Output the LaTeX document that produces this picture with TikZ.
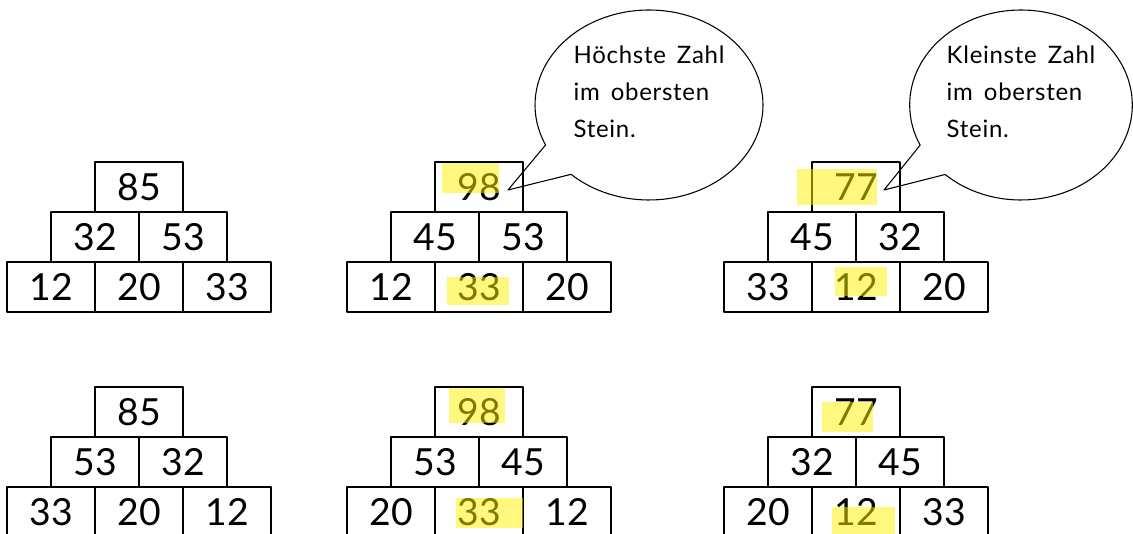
\documentclass[tikz,border=0pt]{standalone}
\usepackage{fontspec}
\setmainfont{Lato}
\newfontfamily\blasenschrift{Lato}[LetterSpace=3, WordSpace=1.6]
\usetikzlibrary{shapes.callouts}
\tikzset{
  stein/.style={draw, line width=0.9pt, minimum width=66pt, minimum height=37.5pt, inner sep=0pt, font=\fontsize{28}{30}\selectfont},
  leuchte/.style={fill=yellow, fill opacity=0.5, draw=none},
  blase/.style={ellipse callout, draw, line width=0.8pt, callout pointer arc=22, align=left, text depth=20pt, font=\blasenschrift\fontsize{18}{27.5}\selectfont}
}
\begin{document}
\begin{tikzpicture}[x=0.75pt, y=-0.75pt, line join=round]
\useasboundingbox (0,0) rectangle (1133,534);
% pyramids: bottom row, middle row, top stone
\foreach \p/\L/\T/\a/\b/\c/\d/\e/\f in {a/7/162/12/20/33/32/53/85, b/347/162/12/33/20/45/53/98, c/724/162/33/12/20/45/32/77, d/7/387/33/20/12/53/32/85, e/347/387/20/33/12/53/45/98, f/724/387/20/12/33/32/45/77}
{
  \node[stein] (\p1) at (\L+44,\T+125) {\a};
  \node[stein] (\p2) at (\L+132,\T+125) {\b};
  \node[stein] (\p3) at (\L+220,\T+125) {\c};
  \node[stein] (\p4) at (\L+88,\T+75) {\d};
  \node[stein] (\p5) at (\L+176,\T+75) {\e};
  \node[stein] (\p6) at (\L+132,\T+25) {\f};
}
% speech bubbles
\coordinate (spitze1) at (508,190);
\coordinate (spitze2) at (884,190);
\node[blase, minimum width=171pt, minimum height=142.5pt, callout absolute pointer=(spitze1)] (hoch) at (649,105) {Höchste Zahl\\im obersten\\Stein.};
\node[blase, minimum width=163pt, minimum height=142.5pt, callout absolute pointer=(spitze2)] (klein) at (1021,105) {Kleinste Zahl\\im obersten\\Stein.};
% marker
\fill[leuchte] (442,163) rectangle (499,193);
\fill[leuchte] (447,277) rectangle (509,305);
\fill[leuchte] (797,169) rectangle (877,205);
\fill[leuchte] (835,267) rectangle (887,296);
\fill[leuchte] (449,388) rectangle (505,423);
\fill[leuchte] (456,498) rectangle (523,528);
\fill[leuchte] (822,402) rectangle (873,432);
\fill[leuchte] (832,507) rectangle (895,534);
\end{tikzpicture}
\end{document}
